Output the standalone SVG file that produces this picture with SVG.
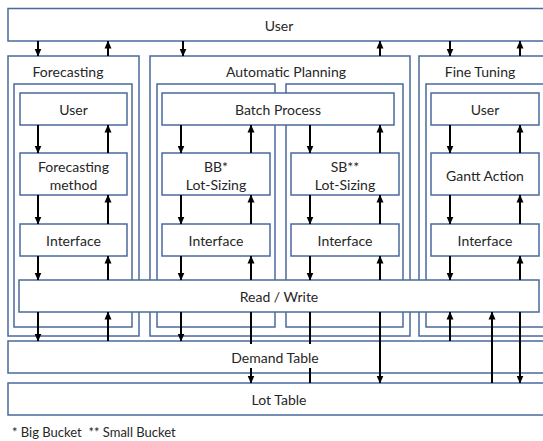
<svg xmlns="http://www.w3.org/2000/svg" width="543" height="441" viewBox="0 0 543 441">
<style>
.b{fill:#fff;stroke:#4a6a9c;stroke-width:1.5}
.t{font-family:Lato,"Liberation Sans",sans-serif;font-size:14px;fill:#262626;text-anchor:middle;dominant-baseline:central}
.a{stroke:#000;stroke-width:2;fill:none;marker-end:url(#ah)}
.l{stroke:#000;stroke-width:2;fill:none}
</style>
<defs>
<marker id="ah" markerWidth="8" markerHeight="8" viewBox="0 0 8 8" refX="7.5" refY="4" orient="auto" markerUnits="userSpaceOnUse">
<path d="M0,0.5 L8,4 L0,7.5 Z" fill="#000"/>
</marker>
</defs>
<rect width="543" height="441" fill="#fff"/>
<g id="user-top"><rect class="b" x="8" y="8.5" width="545" height="32.5"/><text class="t" x="279" y="25">User</text></g>
<g id="forecasting"><rect class="b" x="8" y="56" width="131" height="280"/><rect class="b" x="14" y="84" width="118" height="243"/><text class="t" x="68" y="71">Forecasting</text></g>
<g id="automatic-planning"><rect class="b" x="150" y="56" width="260" height="280"/><rect class="b" x="157" y="84" width="118" height="243"/><rect class="b" x="286" y="84" width="117" height="243"/><text class="t" x="286" y="71">Automatic Planning</text></g>
<g id="fine-tuning"><rect class="b" x="419" y="56" width="134" height="280"/><rect class="b" x="426" y="84" width="125" height="243"/><text class="t" x="480" y="71">Fine Tuning</text></g>
<g id="f-user"><rect class="b" x="20" y="93" width="107" height="32"/><text class="t" x="73.5" y="109">User</text></g>
<g id="batch-process"><rect class="b" x="162" y="93" width="232" height="32"/><text class="t" x="278" y="109">Batch Process</text></g>
<g id="ft-user"><rect class="b" x="431" y="93" width="108" height="32"/><text class="t" x="485" y="109">User</text></g>
<g id="forecasting-method"><rect class="b" x="20" y="153" width="107" height="42"/><text class="t" x="73.5" y="166">Forecasting</text><text class="t" x="73.5" y="184">method</text></g>
<g id="bb-lot-sizing"><rect class="b" x="162" y="153" width="108" height="42"/><text class="t" x="216" y="166">BB*</text><text class="t" x="216" y="184">Lot-Sizing</text></g>
<g id="sb-lot-sizing"><rect class="b" x="291" y="153" width="108" height="42"/><text class="t" x="345" y="166">SB**</text><text class="t" x="345" y="184">Lot-Sizing</text></g>
<g id="gantt-action"><rect class="b" x="431" y="153" width="108" height="42"/><text class="t" x="485" y="175">Gantt Action</text></g>
<g id="f-interface"><rect class="b" x="20" y="224" width="107" height="32"/><text class="t" x="73.5" y="240">Interface</text></g>
<g id="bb-interface"><rect class="b" x="162" y="224" width="108" height="32"/><text class="t" x="216" y="240">Interface</text></g>
<g id="sb-interface"><rect class="b" x="291" y="224" width="108" height="32"/><text class="t" x="345" y="240">Interface</text></g>
<g id="ft-interface"><rect class="b" x="431" y="224" width="108" height="32"/><text class="t" x="485" y="240">Interface</text></g>
<g id="read-write"><rect class="b" x="19" y="280" width="520" height="32"/><text class="t" x="279" y="296">Read / Write</text></g>
<g id="demand-table"><rect class="b" x="8" y="341" width="545" height="32"/></g>
<g id="lot-table"><rect class="b" x="8" y="383" width="545" height="32"/><text class="t" x="279" y="399">Lot Table</text></g>
<g id="connectors">
<line class="a" x1="38" y1="41" x2="38" y2="56"/>
<line class="a" x1="108" y1="56" x2="108" y2="41"/>
<line class="a" x1="183" y1="41" x2="183" y2="56"/>
<line class="a" x1="380" y1="56" x2="380" y2="41"/>
<line class="a" x1="450" y1="41" x2="450" y2="56"/>
<line class="a" x1="520" y1="56" x2="520" y2="41"/>

<line class="a" x1="38" y1="125" x2="38" y2="153"/>
<line class="a" x1="108" y1="153" x2="108" y2="125"/>
<line class="a" x1="181" y1="125" x2="181" y2="153"/>
<line class="a" x1="251" y1="153" x2="251" y2="125"/>
<line class="a" x1="310" y1="125" x2="310" y2="153"/>
<line class="a" x1="380" y1="153" x2="380" y2="125"/>
<line class="a" x1="450" y1="125" x2="450" y2="153"/>
<line class="a" x1="520" y1="153" x2="520" y2="125"/>

<line class="a" x1="38" y1="195" x2="38" y2="224"/>
<line class="a" x1="108" y1="224" x2="108" y2="195"/>
<line class="a" x1="181" y1="195" x2="181" y2="224"/>
<line class="a" x1="251" y1="224" x2="251" y2="195"/>
<line class="a" x1="310" y1="195" x2="310" y2="224"/>
<line class="a" x1="380" y1="224" x2="380" y2="195"/>
<line class="a" x1="450" y1="195" x2="450" y2="224"/>
<line class="a" x1="520" y1="224" x2="520" y2="195"/>

<line class="a" x1="38" y1="256" x2="38" y2="280"/>
<line class="a" x1="108" y1="280" x2="108" y2="256"/>
<line class="a" x1="181" y1="256" x2="181" y2="280"/>
<line class="a" x1="251" y1="280" x2="251" y2="256"/>
<line class="a" x1="310" y1="256" x2="310" y2="280"/>
<line class="a" x1="380" y1="280" x2="380" y2="256"/>
<line class="a" x1="450" y1="256" x2="450" y2="280"/>
<line class="a" x1="520" y1="280" x2="520" y2="256"/>

<line class="a" x1="38" y1="312" x2="38" y2="341"/>
<line class="a" x1="108" y1="341" x2="108" y2="312"/>
<line class="a" x1="181" y1="312" x2="181" y2="341"/>
<line class="a" x1="251" y1="312" x2="251" y2="383"/>
<line class="l" x1="310" y1="312" x2="310" y2="383"/>
<line class="a" x1="380" y1="312" x2="380" y2="383"/>
<line class="a" x1="450" y1="341" x2="450" y2="312"/>
<line class="a" x1="492" y1="383" x2="492" y2="312"/>
<line class="a" x1="520" y1="312" x2="520" y2="383"/>
</g>
<g id="demand-label"><rect x="228" y="344" width="94" height="24" fill="#fff"/><text class="t" x="275" y="357">Demand Table</text></g>
<text x="12" y="432" font-family="Lato,'Liberation Sans',sans-serif" font-size="13" fill="#262626" dominant-baseline="central" xml:space="preserve">* Big Bucket  ** Small Bucket</text>
</svg>
